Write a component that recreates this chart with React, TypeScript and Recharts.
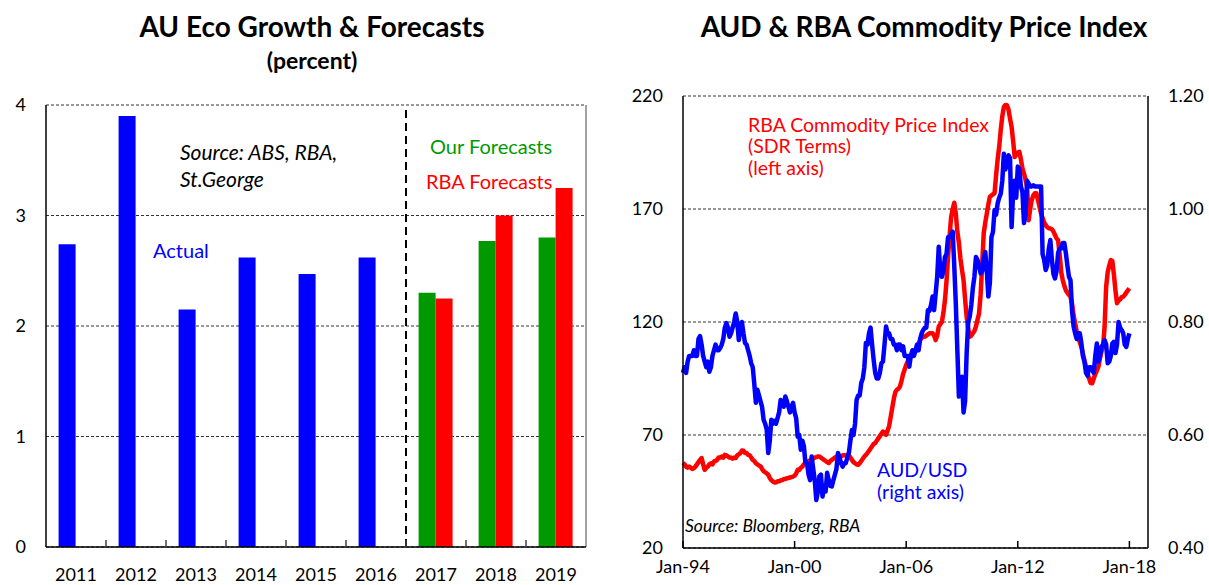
import {
  Bar, BarChart, CartesianGrid, Cell, ComposedChart, Line, ReferenceLine, XAxis, YAxis,
} from 'recharts';
import type { ReactNode } from 'react';

const FONT = 'Lato, "Noto Sans", sans-serif';
const BLUE = '#0000ff';
const GREEN = '#009a00';
const RED = '#ff0000';

// ---- left chart: growth (percent)
const YEARS = ['2011', '2012', '2013', '2014', '2015', '2016', '2017', '2018', '2019'];
const GROWTH = [2.74, 3.9, 2.15, 2.62, 2.47, 2.62, 2.3, 2.77, 2.8];
const RBA_FORECAST = [null, null, null, null, null, null, 2.25, 3.0, 3.25];
const FIRST_FORECAST = '2017';
const GROWTH_TICKS = [0, 1, 2, 3, 4];

// ---- right chart: monthly, Jan-94 .. Jan-18
const DATE_TICKS = ['Jan-94', 'Jan-00', 'Jan-06', 'Jan-12', 'Jan-18'];
const INDEX_TICKS = [20, 70, 120, 170, 220];
const AUD_TICKS = [0.4, 0.6, 0.8, 1.0, 1.2];

const COMMODITY_INDEX = [
  57.6, 57, 56, 55.5, 56, 55.5, 55, 55.3, 56, 57, 58, 59,
  59.8, 57, 54.6, 55.5, 56, 57, 57.5, 57, 58.3, 58.5, 59, 60,
  60, 60.5, 60, 61.2, 61, 60.5, 60, 60, 59.5, 60, 59.8, 61,
  61.5, 62, 63.1, 63, 62, 62, 61.2, 61, 60, 59, 58.5, 57.5,
  57, 56.5, 56.2, 55, 54, 53.5, 53, 52.4, 51, 50, 49.5, 49,
  49, 49.5, 49.5, 50, 50, 50.5, 50.5, 50.9, 51, 51.2, 51.4, 51.6,
  52, 53, 54.6, 54.6, 55.5, 56, 57, 57.5, 58, 58.5, 58.8, 59,
  59.5, 60, 60.2, 60.5, 60.5, 60, 59.5, 59, 58.5, 58, 57.6, 58.5,
  59, 59.5, 60, 60.5, 60.2, 60, 60.5, 61, 61, 61, 61.2, 61,
  60, 59, 58, 57.5, 57, 56.8, 57.5, 58.5, 59.5, 60.5, 61.2, 62,
  63, 64, 65, 66, 66.4, 67.5, 68.5, 69.5, 70.5, 71.5, 71, 70.1,
  72, 74, 78, 82, 86, 89, 90, 90.5, 91.5, 94, 97, 99,
  101, 102.5, 104.7, 105.5, 106, 106.5, 107, 108, 110, 112, 113, 113.5,
  113.5, 114, 114.5, 115, 115, 115, 114, 112, 114, 118, 119, 120,
  124, 129.7, 138, 148.9, 158, 166.5, 170, 172.8, 168, 160, 155, 148,
  143, 138.6, 130, 122.3, 117, 113.5, 114, 115, 116, 118, 121, 123.8,
  132, 145, 159.2, 164, 168, 172, 175.4, 176, 176.5, 176.9, 185, 192,
  197.5, 205, 211, 215.2, 216, 215.9, 214, 210, 206.3, 200, 193, 194,
  195, 195.3, 192, 188, 185.7, 183, 179.8, 165, 170, 174, 176, 177,
  177, 174, 171, 168, 166, 164, 162.9, 162, 161.5, 161.4, 161, 160,
  158.5, 157, 156.2, 150, 142, 138.6, 136, 134, 133, 132, 131.2, 128,
  123, 119.4, 116, 113, 111, 109, 106, 103, 100.2, 97, 95, 93,
  92.9, 95, 97, 98.5, 100.2, 104, 107, 109, 118, 135.6, 142, 145,
  147.4, 147, 141, 134, 128.3, 129.5, 130, 131, 131.2, 132, 133, 134,
  134.9,
];

const AUD_USD = [
  0.71, 0.72, 0.71, 0.73, 0.74, 0.74, 0.74, 0.75, 0.74, 0.74, 0.77, 0.775,
  0.76, 0.74, 0.73, 0.72, 0.73, 0.712, 0.72, 0.74, 0.75, 0.76, 0.75, 0.75,
  0.754, 0.76, 0.77, 0.79, 0.798, 0.79, 0.774, 0.78, 0.79, 0.8, 0.815, 0.8,
  0.768, 0.79, 0.8, 0.78, 0.763, 0.76, 0.75, 0.74, 0.727, 0.72, 0.69, 0.657,
  0.68, 0.67, 0.66, 0.65, 0.627, 0.62, 0.61, 0.568, 0.59, 0.627, 0.62, 0.625,
  0.62, 0.63, 0.64, 0.662, 0.66, 0.65, 0.668, 0.66, 0.65, 0.64, 0.65, 0.657,
  0.64, 0.63, 0.597, 0.6, 0.574, 0.59, 0.58, 0.55, 0.55, 0.53, 0.52, 0.562,
  0.54, 0.52, 0.485, 0.5, 0.527, 0.53, 0.491, 0.51, 0.5, 0.533, 0.52, 0.51,
  0.509, 0.52, 0.53, 0.54, 0.568, 0.56, 0.55, 0.544, 0.55, 0.55, 0.56, 0.568,
  0.59, 0.609, 0.6, 0.62, 0.662, 0.67, 0.67, 0.692, 0.7, 0.72, 0.763, 0.76,
  0.78, 0.79, 0.76, 0.733, 0.71, 0.7, 0.7, 0.71, 0.727, 0.73, 0.76, 0.792,
  0.78, 0.78, 0.77, 0.77, 0.76, 0.76, 0.75, 0.76, 0.76, 0.75, 0.757, 0.74,
  0.74, 0.74, 0.721, 0.74, 0.75, 0.74, 0.75, 0.76, 0.75, 0.77, 0.78, 0.786,
  0.79, 0.79, 0.821, 0.82, 0.83, 0.845, 0.821, 0.85, 0.88, 0.933, 0.89, 0.88,
  0.89, 0.915, 0.92, 0.95, 0.95, 0.955, 0.96, 0.9, 0.833, 0.75, 0.668, 0.69,
  0.703, 0.64, 0.66, 0.745, 0.8, 0.81, 0.83, 0.86, 0.88, 0.915, 0.91, 0.9,
  0.886, 0.89, 0.91, 0.924, 0.89, 0.845, 0.87, 0.95, 0.96, 0.998, 0.99, 1.01,
  1.02, 1.027, 1.05, 1.098, 1.07, 1.08, 1.095, 1.09, 0.968, 1.03, 1.05, 1.02,
  1.075, 1.07, 1.04, 1.03, 0.975, 0.99, 1.05, 1.045, 1.04, 1.04, 1.042, 1.04,
  1.04, 1.04, 1.04, 1.04, 0.92, 0.91, 0.892, 0.9, 0.93, 0.945, 0.91, 0.885,
  0.877, 0.89, 0.922, 0.93, 0.93, 0.94, 0.94, 0.922, 0.9, 0.88, 0.874, 0.82,
  0.792, 0.78, 0.77, 0.78, 0.78, 0.763, 0.74, 0.73, 0.71, 0.705, 0.72, 0.72,
  0.715, 0.71, 0.74, 0.762, 0.73, 0.74, 0.756, 0.76, 0.768, 0.76, 0.727, 0.73,
  0.74, 0.762, 0.765, 0.745, 0.76, 0.8, 0.79, 0.786, 0.78, 0.76, 0.756, 0.77,
  0.78,
];

const forecastStart = YEARS.indexOf(FIRST_FORECAST);
const barData = YEARS.map((year, i) => ({
  year,
  idx: i + 0.5,
  growth: GROWTH[i],
  rba: RBA_FORECAST[i],
}));

const lineData = COMMODITY_INDEX.map((v, i) => ({ m: i, crb: v, aud: AUD_USD[i] }));
const monthsPerTick = 72;

function Note({ x, base, size = 18, color = '#000', italic = false, bold = false, center = false, children }: {
  x: number; base: number; size?: number; color?: string; italic?: boolean; bold?: boolean; center?: boolean; children: ReactNode;
}) {
  return (
    <div
      style={{
        position: 'absolute',
        left: x,
        top: base - 0.987 * size,
        fontSize: size,
        lineHeight: 1.2,
        color,
        fontStyle: italic ? 'italic' : 'normal',
        fontWeight: bold ? 700 : 400,
        whiteSpace: 'nowrap',
        transform: center ? 'translateX(-50%)' : undefined,
        fontFamily: FONT,
      }}
    >
      {children}
    </div>
  );
}

const tickStyle = { fill: '#000', fontSize: 18, fontFamily: FONT };

export default function App() {
  return (
    <div style={{ position: 'absolute', left: 0, top: 0, width: 1209, height: 585, overflow: 'hidden', background: '#fff', fontFamily: FONT }}>
      <div style={{ position: 'absolute', left: 0, top: 0 }}>
        <BarChart
          width={620}
          height={585}
          data={barData}
          margin={{ top: 105, right: 34, bottom: 0, left: 0 }}
          barGap={0}
          barCategoryGap="21%"
        >
          <CartesianGrid vertical={false} stroke="#333" strokeDasharray="3 2" />
          <XAxis
            dataKey="year"
            tick={tickStyle}
            tickLine={false}
            tickMargin={15}
            axisLine={{ stroke: '#000', strokeWidth: 1.5 }}
            height={38}
          />
          {/* category boundaries, ticks pointing into the plot */}
          <XAxis
            xAxisId="b"
            dataKey="idx"
            type="number"
            domain={[0, YEARS.length]}
            ticks={YEARS.slice(1).map((_, i) => i + 1)}
            tickFormatter={() => ''}
            mirror
            tickSize={7}
            axisLine={false}
            tickLine={{ stroke: '#404040', strokeWidth: 1.5 }}
            height={1}
          />
          <YAxis
            domain={[0, 4]}
            ticks={GROWTH_TICKS}
            tick={tickStyle}
            tickLine={false}
            tickMargin={14}
            axisLine={{ stroke: '#000', strokeWidth: 1.5 }}
            width={46}
          />
          <ReferenceLine xAxisId="b" x={forecastStart} stroke="#000" strokeWidth={2} strokeDasharray="8 5" />
          <ReferenceLine xAxisId="b" x={YEARS.length} stroke="#444" strokeWidth={1} />
          <Bar dataKey="growth" isAnimationActive={false}>
            {barData.map((d, i) => (
              <Cell key={d.year} fill={i >= forecastStart ? GREEN : BLUE} />
            ))}
          </Bar>
          <Bar dataKey="rba" fill={RED} isAnimationActive={false} />
        </BarChart>
      </div>

      <div style={{ position: 'absolute', left: 620, top: 0 }}>
        <ComposedChart width={589} height={585} data={lineData} margin={{ top: 96, right: 0, bottom: 0, left: 0 }}>
          <CartesianGrid yAxisId="left" vertical={false} stroke="#333" strokeDasharray="3 2" />
          <XAxis
            dataKey="m"
            type="number"
            domain={[0, 300]}
            ticks={DATE_TICKS.map((_, i) => i * monthsPerTick)}
            tickFormatter={(v: number) => DATE_TICKS[v / monthsPerTick] ?? ''}
            tick={tickStyle}
            tickSize={-7}
            tickMargin={19}
            tickLine={{ stroke: '#000', strokeWidth: 1.5 }}
            axisLine={{ stroke: '#000', strokeWidth: 1.5 }}
            height={37}
          />
          <YAxis
            yAxisId="left"
            domain={[20, 220]}
            ticks={INDEX_TICKS}
            tick={tickStyle}
            tickLine={false}
            tickMargin={14}
            axisLine={{ stroke: '#000', strokeWidth: 1.5 }}
            width={63}
          />
          <YAxis
            yAxisId="right"
            orientation="right"
            domain={[0.4, 1.2]}
            ticks={AUD_TICKS}
            tickFormatter={(v: number) => v.toFixed(2)}
            tick={tickStyle}
            tickLine={false}
            tickMargin={14}
            axisLine={{ stroke: '#000', strokeWidth: 1.5 }}
            width={61}
          />
          <Line yAxisId="left" dataKey="crb" stroke={RED} strokeWidth={4.5} dot={false} isAnimationActive={false} strokeLinejoin="round" />
          <Line yAxisId="right" dataKey="aud" stroke={BLUE} strokeWidth={4.5} dot={false} isAnimationActive={false} strokeLinejoin="round" />
        </ComposedChart>
      </div>

      {/* titles */}
      <Note x={312} base={38} size={28} bold center>AU Eco Growth &amp; Forecasts</Note>
      <Note x={312} base={70} size={23} bold center>(percent)</Note>
      <Note x={924} base={38} size={28} bold center>AUD &amp; RBA Commodity Price Index</Note>

      {/* left annotations */}
      <Note x={180} base={160} size={21} italic>Source: ABS, RBA,</Note>
      <Note x={180} base={187} size={21} italic>St.George</Note>
      <Note x={153} base={258} size={20} color={BLUE}>Actual</Note>
      <Note x={430} base={154} size={20} color={GREEN}>Our Forecasts</Note>
      <Note x={426} base={189} size={20} color={RED}>RBA Forecasts</Note>

      {/* right annotations */}
      <Note x={748} base={132} size={19.5} color={RED}>RBA Commodity Price Index</Note>
      <Note x={748} base={153} size={19.5} color={RED}>(SDR Terms)</Note>
      <Note x={748} base={175} size={19.5} color={RED}>(left axis)</Note>
      <Note x={877} base={477} size={19.5} color={BLUE}>AUD/USD</Note>
      <Note x={877} base={499} size={19.5} color={BLUE}>(right axis)</Note>
      <Note x={685} base={532} size={17.5} italic>Source: Bloomberg, RBA</Note>
    </div>
  );
}
